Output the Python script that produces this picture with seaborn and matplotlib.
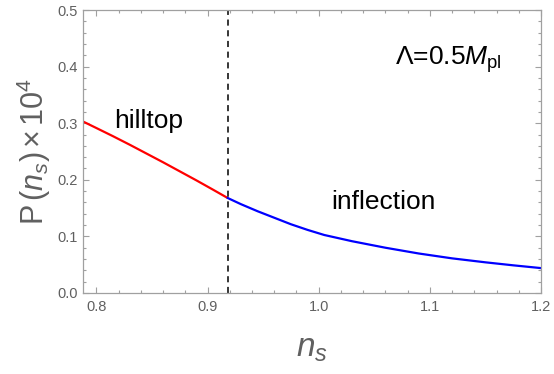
import matplotlib
matplotlib.use("Agg")
import matplotlib.pyplot as plt
import seaborn as sns
import pandas as pd
from matplotlib.ticker import MultipleLocator

# data
hill_ns = [0.788, 0.80, 0.815, 0.83, 0.845, 0.86, 0.875, 0.89, 0.905, 0.918]
hill_P = [0.303, 0.2915, 0.277, 0.262, 0.2465, 0.231, 0.215, 0.199, 0.1825, 0.168]
infl_ns = [0.918, 0.93, 0.945, 0.96, 0.975, 0.99, 1.005, 1.03, 1.06, 1.09, 1.12, 1.15, 1.175, 1.20]
infl_P = [0.168, 0.157, 0.1445, 0.133, 0.1215, 0.1115, 0.1025, 0.0915, 0.0800, 0.0698, 0.0612, 0.0542, 0.0489, 0.044]
ns_boundary = 0.918
x_ticks = [0.8, 0.9, 1.0, 1.1, 1.2]
y_ticks = [0.0, 0.1, 0.2, 0.3, 0.4, 0.5]

sns.set_style("ticks")
plt.rcParams['font.family'] = ['Liberation Sans', 'DejaVu Sans']
plt.rcParams['mathtext.fontset'] = 'custom'
plt.rcParams['mathtext.rm'] = 'Liberation Sans'
plt.rcParams['mathtext.it'] = 'Liberation Sans:italic'

df_h = pd.DataFrame({"ns": hill_ns, "P": hill_P})
df_i = pd.DataFrame({"ns": infl_ns, "P": infl_P})

fig = plt.figure(figsize=(5.54, 3.74), dpi=100)
ax = fig.add_axes([83/554, 1-293/374, (541-83)/554, (293-10)/374])

sns.lineplot(data=df_h, x="ns", y="P", color=(1, 0, 0), lw=1.6, ax=ax)
sns.lineplot(data=df_i, x="ns", y="P", color=(0, 0, 1), lw=1.6, ax=ax)
ax.axvline(ns_boundary, color='black', lw=1.1, ls=(0, (4, 3)))

ax.set_xlim(0.788, 1.2)
ax.set_ylim(0.0, 0.5)
ax.set_xticks(x_ticks)
ax.set_yticks(y_ticks)
ax.xaxis.set_minor_locator(MultipleLocator(0.02))
ax.yaxis.set_minor_locator(MultipleLocator(0.02))
ax.set_xticklabels([f"{v:.1f}" for v in x_ticks])
ax.set_yticklabels([f"{v:.1f}" for v in y_ticks])

gray = '#a0a0a0'
for s in ax.spines.values():
    s.set_color(gray)
    s.set_linewidth(0.9)
ax.tick_params(which='both', direction='in', top=True, right=True, color=gray,
               labelcolor='#606060', labelsize=10.5, width=0.8)
ax.tick_params(which='major', length=4)
ax.tick_params(which='minor', length=2.2)
ax.tick_params(axis='x', pad=5)
ax.tick_params(axis='y', pad=4)

ax.set_xlabel(r'$n_s$', fontsize=24, color='#606060', labelpad=14)
ax.set_ylabel(r'P$\,(n_s)\,$×$\,$10$^4$', fontsize=22, color='#606060', labelpad=3)

ax.text(0.847, 0.304, 'hilltop', fontsize=19, ha='center', va='center', color='black')
ax.text(1.058, 0.161, 'inflection', fontsize=19, ha='center', va='center', color='black')
ax.text(1.117, 0.412, r'Λ=0.5$M_{\rm pl}$', fontsize=19, ha='center', va='center', color='black')

fig.savefig("out.png", dpi=100)
